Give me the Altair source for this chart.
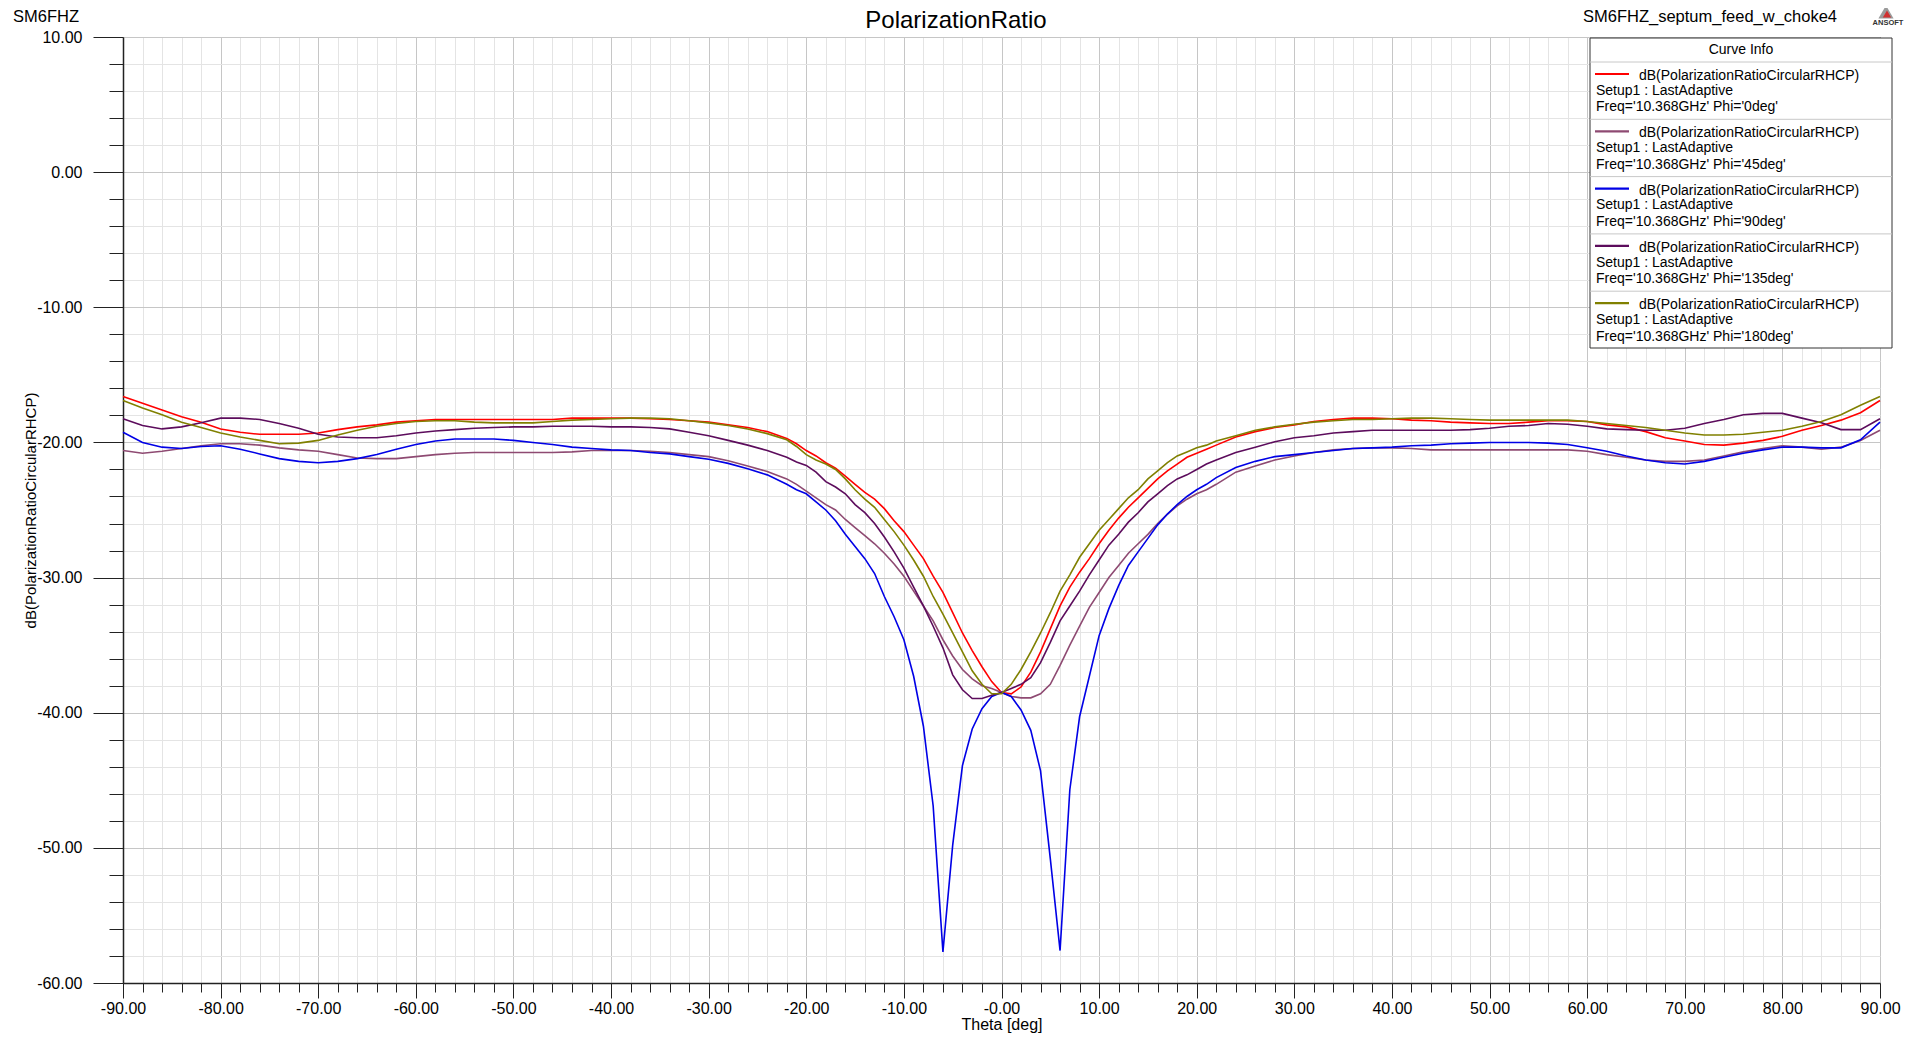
import altair as alt
import pandas as pd

# ---------------- data ----------------
THETA = list(range(-90, -23, 2)) + list(range(-22, 23)) + list(range(24, 91, 2))

PHI0 = [-16.6, -17.1, -17.6, -18.1, -18.5, -19.0, -19.25, -19.4, -19.4, -19.4,
        -19.3, -19.05, -18.85, -18.7, -18.5, -18.4, -18.3, -18.3, -18.3, -18.3,
        -18.3, -18.3, -18.3, -18.2, -18.2, -18.2, -18.2, -18.25, -18.3, -18.4,
        -18.5, -18.7, -18.9, -19.2,
        -19.7, -20.1, -20.6, -21.0, -21.5, -21.9, -22.5, -23.1, -23.7, -24.2,
        -24.9, -25.8, -26.6, -27.6, -28.6, -29.9, -31.1, -32.6, -34.1, -35.4,
        -36.6, -37.7, -38.5, -38.6, -38.1, -37.0, -35.5, -33.8, -32.1, -30.7,
        -29.6, -28.6, -27.5, -26.5, -25.6, -24.8, -24.1, -23.4, -22.7, -22.1,
        -21.6, -21.1, -20.8, -20.5, -20.2,
        -19.6, -19.2, -18.9, -18.7, -18.45, -18.3, -18.2, -18.2, -18.25, -18.35,
        -18.4, -18.5, -18.55, -18.6, -18.6, -18.5, -18.4, -18.4, -18.45, -18.7,
        -18.85, -19.2, -19.65, -19.9, -20.15, -20.2, -20.05, -19.85, -19.55, -19.1,
        -18.75, -18.35, -17.8, -16.9]

PHI45 = [-20.6, -20.8, -20.65, -20.45, -20.25, -20.1, -20.1, -20.2, -20.4, -20.55,
         -20.65, -20.9, -21.15, -21.2, -21.2, -21.05, -20.9, -20.8, -20.75, -20.75,
         -20.75, -20.75, -20.75, -20.7, -20.6, -20.6, -20.6, -20.65, -20.75, -20.9,
         -21.05, -21.35, -21.75, -22.15,
         -22.7, -23.1, -23.6, -24.1, -24.6, -25.0, -25.7, -26.3, -26.9, -27.5,
         -28.2, -29.0, -29.9, -31.0, -32.1, -33.2, -34.6, -35.8, -36.8, -37.5,
         -38.0, -38.2, -38.5, -38.8, -38.9, -38.9, -38.6, -37.9, -36.5, -35.0,
         -33.6, -32.2, -31.1, -30.0, -29.1, -28.2, -27.5, -26.8, -26.0, -25.3,
         -24.7, -24.2, -23.8, -23.5, -23.1,
         -22.2, -21.75, -21.3, -21.0, -20.75, -20.55, -20.45, -20.4, -20.4, -20.45,
         -20.55, -20.55, -20.55, -20.55, -20.55, -20.55, -20.55, -20.55, -20.65, -20.9,
         -21.1, -21.3, -21.4, -21.4, -21.3, -21.0, -20.7, -20.45, -20.25, -20.35,
         -20.5, -20.35, -19.85, -19.1]

PHI90 = [-19.25, -20.0, -20.35, -20.45, -20.3, -20.25, -20.5, -20.85, -21.2, -21.4,
         -21.5, -21.4, -21.2, -20.9, -20.5, -20.15, -19.9, -19.75, -19.75, -19.75,
         -19.85, -20.0, -20.15, -20.35, -20.45, -20.55, -20.6, -20.75, -20.85, -21.05,
         -21.25, -21.55, -21.95, -22.4,
         -23.1, -23.5, -23.8, -24.4, -25.0, -25.8, -26.8, -27.7, -28.6, -29.7,
         -31.4, -32.9, -34.6, -37.3, -41.0, -46.9, -57.7, -49.8, -43.9, -41.2,
         -39.7, -38.8, -38.5, -38.8, -39.8, -41.3, -44.3, -50.8, -57.6, -45.7,
         -40.3, -37.3, -34.3, -32.3, -30.6, -29.1, -28.1, -27.1, -26.1, -25.3,
         -24.6, -24.0, -23.5, -23.1, -22.6,
         -21.85, -21.4, -21.05, -20.9, -20.75, -20.6, -20.45, -20.4, -20.35, -20.25,
         -20.2, -20.1, -20.05, -20.0, -20.0, -20.0, -20.05, -20.15, -20.4, -20.65,
         -21.0, -21.3, -21.5, -21.6, -21.4, -21.1, -20.8, -20.55, -20.35, -20.35,
         -20.4, -20.4, -19.8, -18.5]

PHI135 = [-18.25, -18.75, -19.0, -18.85, -18.55, -18.2, -18.2, -18.3, -18.6, -18.95,
          -19.4, -19.6, -19.65, -19.65, -19.5, -19.3, -19.15, -19.05, -18.95, -18.9,
          -18.85, -18.85, -18.8, -18.8, -18.8, -18.85, -18.85, -18.9, -19.0, -19.25,
          -19.5, -19.85, -20.2, -20.6,
          -21.1, -21.45, -21.7, -22.2, -22.9, -23.3, -23.8, -24.6, -25.2, -26.0,
          -27.0, -28.1, -29.3, -30.7, -32.1, -33.6, -35.2, -37.2, -38.3, -38.95,
          -38.95, -38.7, -38.5, -38.2, -37.9, -37.4, -36.3, -34.8, -33.2, -32.1,
          -31.0, -29.8, -28.7, -27.6, -26.8, -25.9, -25.2, -24.4, -23.8, -23.2,
          -22.7, -22.4, -22.0, -21.6, -21.3,
          -20.75, -20.35, -19.95, -19.65, -19.5, -19.3, -19.2, -19.1, -19.1, -19.1,
          -19.1, -19.1, -19.05, -18.95, -18.8, -18.75, -18.6, -18.65, -18.8, -19.0,
          -19.05, -19.1, -19.1, -18.95, -18.6, -18.3, -17.95, -17.85, -17.85, -18.2,
          -18.55, -19.05, -19.05, -18.25]

PHI180 = [-16.9, -17.45, -17.95, -18.5, -18.9, -19.3, -19.6, -19.85, -20.1, -20.05,
          -19.85, -19.45, -19.1, -18.8, -18.6, -18.45, -18.4, -18.4, -18.5, -18.55,
          -18.55, -18.55, -18.45, -18.35, -18.3, -18.25, -18.2, -18.2, -18.25, -18.4,
          -18.55, -18.75, -19.0, -19.35,
          -19.8, -20.3, -20.9, -21.3, -21.6, -22.0, -22.7, -23.5, -24.2, -24.8,
          -25.7, -26.6, -27.6, -28.7, -29.9, -31.4, -32.7, -34.1, -35.5, -36.9,
          -37.9, -38.6, -38.6, -37.9, -36.8, -35.5, -34.1, -32.6, -31.0, -29.8,
          -28.5, -27.5, -26.5, -25.7, -24.9, -24.1, -23.5, -22.7, -22.1, -21.5,
          -21.0, -20.7, -20.4, -20.2, -19.9,
          -19.5, -19.1, -18.85, -18.65, -18.5, -18.4, -18.3, -18.3, -18.25, -18.2,
          -18.2, -18.25, -18.3, -18.35, -18.35, -18.35, -18.35, -18.35, -18.45, -18.6,
          -18.75, -18.9, -19.1, -19.3, -19.45, -19.45, -19.4, -19.25, -19.1, -18.8,
          -18.45, -17.95, -17.25, -16.6]

SERIES = ["Phi='0deg'", "Phi='45deg'", "Phi='90deg'", "Phi='135deg'", "Phi='180deg'"]
COLORS = ["#ff0000", "#8e4a72", "#0000e6", "#5c0c5c", "#808000"]
VALUES = [PHI0, PHI45, PHI90, PHI135, PHI180]

X_MAJOR = list(range(-90, 91, 10))
X_MINOR = [v for v in range(-90, 91, 2) if v % 10 != 0]
Y_MAJOR = list(range(-60, 11, 10))
Y_MINOR = [v for v in range(-60, 11, 2) if v % 10 != 0]

rows = []
for name, vals in zip(SERIES, VALUES):
    assert len(vals) == len(THETA), (name, len(vals))
    for t, v in zip(THETA, vals):
        rows.append({"theta": t, "db": v, "series": name})
df = pd.DataFrame(rows)

legend_df = pd.DataFrame({
    "series": SERIES,
    "line1": ["dB(PolarizationRatioCircularRHCP)"] * len(SERIES),
    "line2": ["Setup1 : LastAdaptive"] * len(SERIES),
    "line3": ["Freq='10.368GHz' " + s for s in SERIES],
    "idx": list(range(len(SERIES))),
})

# ---------------- layout ----------------
W, H = 1757, 946
FONT = "Liberation Sans"
one = pd.DataFrame({"k": [0]})

xscale = alt.Scale(domain=[-90, 90], nice=False, zero=False)
yscale = alt.Scale(domain=[-60, 10], nice=False, zero=False)
cscale = alt.Scale(domain=SERIES, range=COLORS)
LBL = "(datum.value < 0 ? '-' : '') + format(abs(datum.value), '.2f')"
XLBL = "datum.value == 0 ? '-0.00' : " + LBL

minor = alt.Chart(df).mark_line(opacity=0).encode(
    x=alt.X("theta:Q", scale=xscale,
            axis=alt.Axis(orient="bottom", values=X_MINOR, labels=False, title=None,
                          tickSize=9, tickColor="#222", tickWidth=1, domain=False,
                          grid=True, gridColor="#e4e4e4", gridWidth=1)),
    y=alt.Y("db:Q", scale=yscale,
            axis=alt.Axis(orient="left", values=Y_MINOR, labels=False, title=None,
                          tickSize=14, tickColor="#222", tickWidth=1, domain=False,
                          grid=True, gridColor="#e4e4e4", gridWidth=1)),
    detail="series:N",
)

lines = alt.Chart(df).mark_line(strokeWidth=1.6).encode(
    x=alt.X("theta:Q", scale=xscale,
            axis=alt.Axis(orient="bottom", values=X_MAJOR, labelExpr=XLBL,
                          labelFlush=False, labelOverlap=False,
                          labelFontSize=16, labelColor="#000", labelPadding=2,
                          tickSize=15, tickColor="#222", tickWidth=1,
                          domainColor="#222", domainWidth=1.5,
                          grid=True, gridColor="#c6c6c6", gridWidth=1,
                          title="Theta [deg]", titleFontSize=16, titleFontWeight="normal",
                          titleColor="#000", titleX=W / 2, titleY=41,
                          titleBaseline="middle", titleAlign="center")),
    y=alt.Y("db:Q", scale=yscale,
            axis=alt.Axis(orient="left", values=Y_MAJOR, labelExpr=LBL,
                          labelFlush=False, labelOverlap=False,
                          labelFontSize=16, labelColor="#000", labelPadding=11,
                          tickSize=30, tickColor="#222", tickWidth=1,
                          domainColor="#222", domainWidth=1.5,
                          grid=True, gridColor="#c6c6c6", gridWidth=1,
                          title="dB(PolarizationRatioCircularRHCP)", titleFontSize=15,
                          titleFontWeight="normal", titleColor="#000",
                          titleX=-93, titleY=H / 2, titleAngle=270,
                          titleBaseline="middle", titleAlign="center")),
    color=alt.Color("series:N", scale=cscale, legend=None),
    order=alt.Order("theta:Q"),
)

def label(text, x, y, size, align="left", baseline="alphabetic", color="#000", weight="normal"):
    return alt.Chart(one).mark_text(
        text=text, align=align, baseline=baseline, fontSize=size, color=color,
        fontWeight=weight, font=FONT,
    ).encode(x=alt.value(x), y=alt.value(y))

title_c = label("PolarizationRatio", 833, -9, 24, align="center")
title_l = label("SM6FHZ", -110, -15, 16.5)
title_r = label("SM6FHZ_septum_feed_w_choke4", 1460, -15, 16.5)
logo_tri = alt.Chart(one).mark_point(shape="triangle-up", filled=True, size=230,
                                     color="#9a9a9a", opacity=1).encode(
    x=alt.value(1763), y=alt.value(-25))
logo_tri2 = alt.Chart(one).mark_point(shape="triangle-up", filled=True, size=70,
                                      color="#d03030", opacity=1).encode(
    x=alt.value(1764), y=alt.value(-23))
logo_txt = label("ANSOFT", 1765, -12, 7.5, align="center", weight="bold", color="#333")

# ---------------- legend box ----------------
LX0, LX1, LY0, LY1 = 1467, 1769, 1, 311
HDR, STEP = 25, 57.3

box = alt.Chart(one).mark_rect(fill="white", stroke="#333", strokeWidth=1).encode(
    x=alt.value(LX0), x2=alt.value(LX1), y=alt.value(LY0), y2=alt.value(LY1))
hdr_txt = label("Curve Info", (LX0 + LX1) / 2, 13, 14, align="center", baseline="middle")
hdr_sep = alt.Chart(one).mark_rule(color="#c8c8c8", strokeWidth=1).encode(
    x=alt.value(LX0), x2=alt.value(LX1), y=alt.value(HDR))

leg = alt.Chart(legend_df).transform_calculate(
    top=f"{HDR} + {STEP} * datum.idx"
).transform_calculate(
    ysym="datum.top + 12", y1="datum.top + 14", y2="datum.top + 28.7",
    y3="datum.top + 45.3", ysep="datum.top"
)
seps = leg.transform_filter("datum.idx > 0").mark_rule(color="#c8c8c8", strokeWidth=1).encode(
    x=alt.value(LX0), x2=alt.value(LX1), y=alt.Y("ysep:Q", scale=None, axis=None))
syms = leg.mark_rule(strokeWidth=2.2).encode(
    x=alt.value(1472), x2=alt.value(1506), y=alt.Y("ysym:Q", scale=None, axis=None),
    color=alt.Color("series:N", scale=cscale, legend=None))
t1 = leg.mark_text(align="left", baseline="middle", fontSize=14, font=FONT, color="#000").encode(
    x=alt.value(1516), y=alt.Y("y1:Q", scale=None, axis=None), text="line1:N")
t2 = leg.mark_text(align="left", baseline="middle", fontSize=14, font=FONT, color="#000").encode(
    x=alt.value(1473), y=alt.Y("y2:Q", scale=None, axis=None), text="line2:N")
t3 = leg.mark_text(align="left", baseline="middle", fontSize=14, font=FONT, color="#000").encode(
    x=alt.value(1473), y=alt.Y("y3:Q", scale=None, axis=None), text="line3:N")

chart = alt.layer(
    minor, lines, title_c, title_l, title_r, logo_tri, logo_tri2, logo_txt,
    box, hdr_txt, hdr_sep, seps, syms, t1, t2, t3,
).resolve_axis(x="independent", y="independent").properties(
    width=W, height=H,
    padding={"left": 115, "top": 29, "right": 30, "bottom": 54},
    autosize=alt.AutoSizeParams(type="none"),
    background="white",
).configure(font=FONT).configure_view(stroke="#333", strokeWidth=1)

chart.save("out.html", embed_options={"renderer": "svg", "actions": False})
